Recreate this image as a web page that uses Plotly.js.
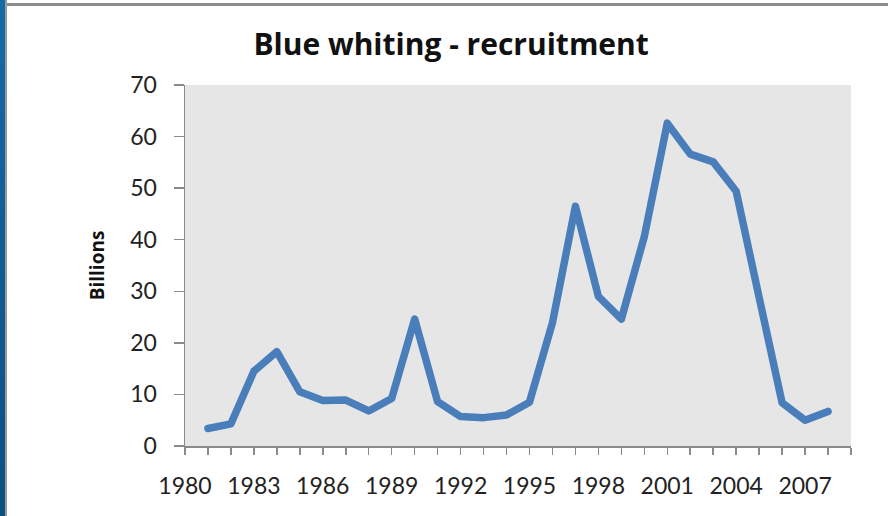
<!DOCTYPE html>
<html>
<head>
<meta charset="utf-8">
<script src="https://cdn.plot.ly/plotly-3.0.1.min.js"></script>
<style>
  html, body { margin: 0; padding: 0; background: #fff; }
  #wrap { position: relative; width: 888px; height: 516px; overflow: hidden; }
  #chart { position: absolute; left: 0; top: 0; width: 888px; height: 516px; }
  #leftbar { position: absolute; left: 0; top: 0; width: 5px; height: 516px;
             background: linear-gradient(#156aa6, #0c4f82); }
  #leftedge { position: absolute; left: 5px; top: 0; width: 2px; height: 516px; background: #9a9a9a; }
  #topline { position: absolute; left: 7px; top: 3px; width: 881px; height: 3px; background: #8e8e8e; }
  .js-line { stroke-linejoin: round !important; stroke-linecap: round !important; }
</style>
</head>
<body>
<div id="wrap">
  <div id="chart"></div>
  <div id="leftbar"></div>
  <div id="leftedge"></div>
  <div id="topline"></div>
</div>
<script>
// Data (billions), year classes 1981-2008
const years = [1981,1982,1983,1984,1985,1986,1987,1988,1989,1990,1991,1992,1993,1994,
               1995,1996,1997,1998,1999,2000,2001,2002,2003,2004,2005,2006,2007,2008];
const recruitment = [3.4,4.3,14.5,18.3,10.5,8.8,8.9,6.8,9.2,24.6,8.6,5.7,5.5,6.0,
                     8.5,23.9,46.5,29.0,24.6,40.6,62.6,56.6,55.1,49.4,28.8,8.4,5.0,6.7];
const xTickVals = [1980,1983,1986,1989,1992,1995,1998,2001,2004,2007];
const xTickText = ['1980','1983','1986','1989','1992','1995','1998','2001','2004','2007'];
const yTickVals = [0,10,20,30,40,50,60,70];
const titleText = 'Blue whiting - recruitment';
const yTitleText = 'Billions';

const FONT = 'Lato, "Open Sans", sans-serif';
const TFONT = '"Open Sans", Lato, sans-serif';
const AX = '#8a8a8a';

const trace = {
  x: years, y: recruitment, type: 'scatter', mode: 'lines',
  line: { color: '#4a7ebb', width: 7.5 },
  hoverinfo: 'skip'
};

const layout = {
  width: 888, height: 516,
  margin: { l: 185, r: 37, t: 85, b: 70 },
  paper_bgcolor: 'rgba(0,0,0,0)',
  plot_bgcolor: '#e6e6e6',
  showlegend: false,
  font: { family: FONT, color: '#222' },
  title: { text: '<b>' + titleText + '</b>', x: 0.508, xanchor: 'center', y: 0.914, yanchor: 'middle',
           font: { family: TFONT, size: 30, color: '#111' } },
  xaxis: {
    range: [1980, 2009], tickmode: 'array', tickvals: xTickVals, ticktext: xTickText,
    showgrid: false, zeroline: false, showline: true, linecolor: AX, linewidth: 1.5,
    ticks: 'outside', ticklen: 7, tickcolor: AX, tickwidth: 1.5,
    minor: { dtick: 1, tick0: 1980, ticks: 'outside', ticklen: 7, tickcolor: AX, tickwidth: 1.5, showgrid: false },
    tickfont: { family: FONT, size: 23, color: '#222' },
    ticklabelstandoff: 12,
    fixedrange: true
  },
  yaxis: {
    range: [0, 70], tickmode: 'array', tickvals: yTickVals,
    showgrid: false, zeroline: false, showline: true, linecolor: AX, linewidth: 1.5,
    ticks: 'outside', ticklen: 10, tickcolor: AX, tickwidth: 1.5,
    tickfont: { family: FONT, size: 23, color: '#222' },
    ticklabelstandoff: 12,
    title: { text: '<b>' + yTitleText + '</b>', standoff: 20, font: { family: TFONT, size: 19, color: '#111' } },
    fixedrange: true
  }
};

Plotly.newPlot('chart', [trace], layout, { displayModeBar: false, staticPlot: true });
</script>
</body>
</html>
